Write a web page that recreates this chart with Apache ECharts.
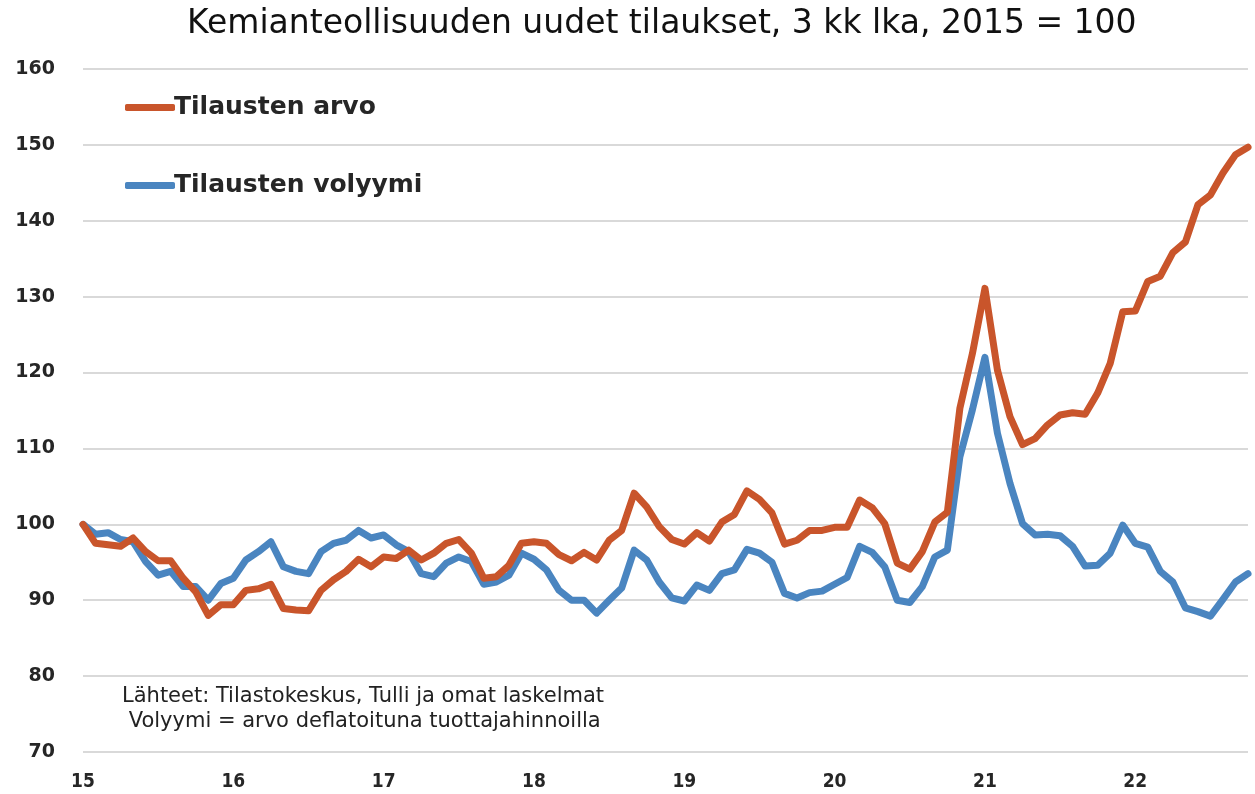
<!DOCTYPE html>
<html>
<head>
<meta charset="utf-8">
<script src="https://cdn.jsdelivr.net/npm/echarts@6/dist/echarts.min.js"></script>
<style>
  html, body { margin: 0; padding: 0; background: #fff; }
  #chart { width: 1255px; height: 794px; }
</style>
</head>
<body>
<div id="chart"></div>
<script>
// monthly, Jan 2015 .. Oct 2022, 3 month moving average, 2015 = 100
var years = ['15', '16', '17', '18', '19', '20', '21', '22'];
var arvo = [
  100, 97.5, 97.3, 97.1, 98.2, 96.4, 95.2, 95.2, 92.9, 91.1, 88.0, 89.4,
  89.4, 91.3, 91.5, 92.1, 88.9, 88.7, 88.6, 91.3, 92.7, 93.8, 95.4, 94.4,
  95.7, 95.5, 96.6, 95.3, 96.2, 97.5, 98.0, 96.2, 92.9, 93.1, 94.6, 97.5,
  97.7, 97.5, 96.0, 95.2, 96.3, 95.3, 97.9, 99.2, 104.1, 102.3, 99.7, 98.0,
  97.4, 98.9, 97.8, 100.3, 101.3, 104.4, 103.3, 101.5, 97.4, 97.9, 99.2, 99.2,
  99.6, 99.6, 103.2, 102.2, 100.1, 94.9, 94.1, 96.4, 100.3, 101.6, 115.3, 122.5,
  131.1, 120.3, 114.2, 110.5, 111.3, 113.1, 114.4, 114.7, 114.5, 117.3, 121.2, 128.0,
  128.1, 132.0, 132.7, 135.8, 137.2, 142.1, 143.4, 146.3, 148.7, 149.7
];
var volyymi = [
  100, 98.7, 98.9, 98.0, 97.7, 95.1, 93.3, 93.8, 91.8, 91.8, 90.0, 92.2,
  92.9, 95.3, 96.4, 97.7, 94.4, 93.8, 93.5, 96.4, 97.5, 97.9, 99.2, 98.2,
  98.6, 97.3, 96.4, 93.5, 93.1, 94.9, 95.7, 95.1, 92.1, 92.4, 93.3, 96.2,
  95.4, 94.0, 91.3, 90.0, 90.0, 88.3, 90.0, 91.6, 96.6, 95.3, 92.4, 90.3,
  89.9, 92.0, 91.3, 93.5, 94.0, 96.7, 96.2, 95.0, 90.9, 90.3, 91.0, 91.2,
  92.1, 93.0, 97.1, 96.3, 94.4, 90.0, 89.7, 91.8, 95.7, 96.6, 108.9, 115.1,
  122.0, 112.0, 105.4, 100.1, 98.6, 98.7, 98.5, 97.1, 94.5, 94.6, 96.2, 99.9,
  97.5, 97.0, 93.8, 92.4, 89.0, 88.5, 87.9, 90.1, 92.4, 93.5
];
var seriesNames = ['Tilausten arvo', 'Tilausten volyymi'];
var sourceLines = [
  'Lähteet: Tilastokeskus, Tulli ja omat laskelmat',
  ' Volyymi = arvo deflatoituna tuottajahinnoilla'
];

var months = [];
for (var i = 0; i < arvo.length; i++) {
  months.push(years[Math.floor(i / 12)] + '-' + (i % 12 + 1));
}

var chart = echarts.init(document.getElementById('chart'));

var option = {
  animation: false,
  backgroundColor: '#ffffff',
  title: {
    text: 'Kemianteollisuuden uudet tilaukset, 3 kk lka, 2015 = 100',
    left: 182,
    top: 3,
    textStyle: {
      fontFamily: 'DejaVu Sans',
      fontSize: 33,
      fontWeight: 'normal',
      color: '#111111'
    }
  },
  legend: {
    data: seriesNames,
    orient: 'vertical',
    left: 120,
    top: 90,
    itemGap: 53,
    itemWidth: 50,
    itemHeight: 7,
    icon: 'roundRect',
    textStyle: {
      fontFamily: 'DejaVu Sans',
      fontSize: 25,
      fontWeight: 'bold',
      color: '#262626',
      padding: [0, 0, 0, -6]
    }
  },
  grid: {
    left: 83,
    right: 7,
    top: 69,
    bottom: 42
  },
  xAxis: {
    type: 'category',
    data: months,
    boundaryGap: false,
    axisLine: { show: false },
    axisTick: { show: false },
    axisLabel: {
      interval: function (idx) { return idx % 12 === 0; },
      formatter: function (val) { return val.split('-')[0]; },
      margin: 21,
      fontFamily: 'DejaVu Sans Condensed, Liberation Sans, sans-serif',
      fontWeight: 'bold',
      fontSize: 19,
      color: '#262626'
    },
    splitLine: { show: false }
  },
  yAxis: {
    type: 'value',
    min: 70,
    max: 160,
    interval: 10,
    axisLine: { show: false },
    axisTick: { show: false },
    axisLabel: {
      margin: 28,
      fontFamily: 'DejaVu Sans',
      fontWeight: 'bold',
      fontSize: 19,
      color: '#262626'
    },
    splitLine: { lineStyle: { color: '#d9d9d9', width: 2 } }
  },
  graphic: [
    {
      type: 'text',
      left: 122,
      top: 684,
      style: {
        text: sourceLines.join('\n'),
        fontFamily: 'DejaVu Sans',
        fontSize: 21,
        lineHeight: 25,
        fill: '#222222'
      }
    }
  ],
  series: [
    {
      name: seriesNames[0],
      type: 'line',
      data: arvo,
      showSymbol: false,
      symbol: 'none',
      color: '#c9552b',
      lineStyle: { width: 7, color: '#c9552b', cap: 'round', join: 'round' },
      z: 3
    },
    {
      name: seriesNames[1],
      type: 'line',
      data: volyymi,
      showSymbol: false,
      symbol: 'none',
      color: '#4a85c0',
      lineStyle: { width: 7, color: '#4a85c0', cap: 'round', join: 'round' },
      z: 2
    }
  ]
};

chart.setOption(option);
</script>
</body>
</html>
